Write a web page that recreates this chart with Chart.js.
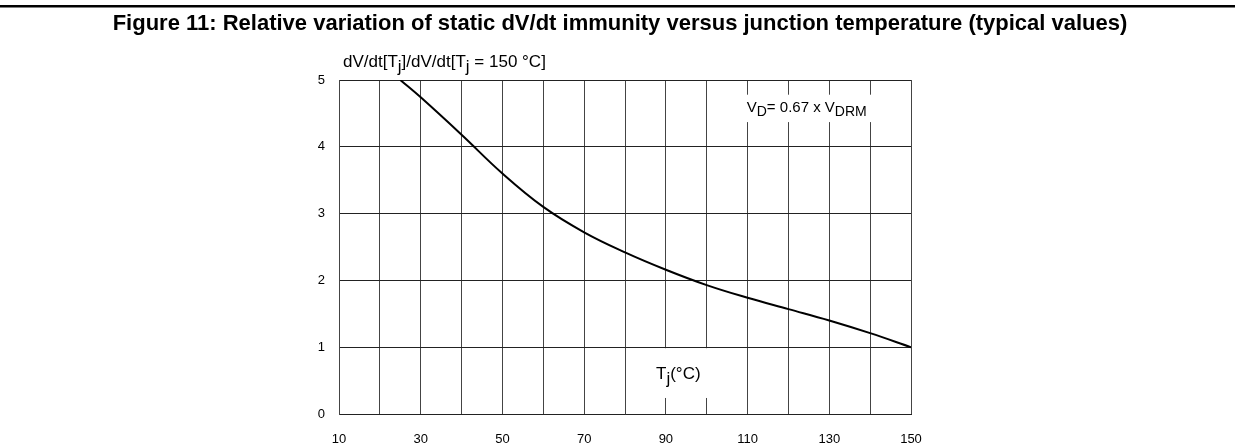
<!DOCTYPE html>
<html>
<head>
<meta charset="utf-8">
<script src="https://cdn.jsdelivr.net/npm/chart.js@4.4.1/dist/chart.umd.min.js"></script>
<style>
  html, body { margin: 0; padding: 0; background: #fff; }
  canvas { display: block; }
</style>
</head>
<body>
<canvas id="myChart" width="1235" height="448"></canvas>
<script>
// junction temperature (°C) and relative dV/dt immunity
const temps = [25, 30, 40, 50, 60, 70, 80, 90, 100, 110, 120, 130, 140, 150];
const ratios = [5.0, 4.74, 4.18, 3.6, 3.1, 2.72, 2.42, 2.16, 1.93, 1.74, 1.57, 1.4, 1.21, 1.0];
const xTickLabels = [10, 30, 50, 70, 90, 110, 130, 150];
const yTickLabels = [0, 1, 2, 3, 4, 5];

const titleText = "Figure 11: Relative variation of static dV/dt immunity versus junction temperature (typical values)";
const yTitleParts = [["dV/dt[T", false], ["j", true], ["]/dV/dt[T", false], ["j", true], [" = 150 °C]", false]];
const xTitleParts = [["T", false], ["j", true], ["(°C)", false]];
const noteParts = [["V", false], ["D", true], ["= 0.67 x V", false], ["DRM", true]];

const FONT = "'Liberation Sans', Arial, sans-serif";

function drawParts(ctx, parts, x, y, size, subSize, drop) {
  parts.forEach(function (p) {
    ctx.font = (p[1] ? subSize : size) + "px " + FONT;
    ctx.fillText(p[0], x, p[1] ? y + drop : y);
    x += ctx.measureText(p[0]).width;
  });
}

const decorations = {
  id: "decorations",
  beforeDatasetsDraw(chart) {
    const ctx = chart.ctx;
    const xs = chart.scales.x;
    const ys = chart.scales.y;
    ctx.save();
    ctx.fillStyle = "#fff";
    // blank box behind the Tj label
    let x0 = xs.getPixelForValue(80) + 1;
    let x1 = xs.getPixelForValue(110) - 1;
    let y0 = ys.getPixelForValue(1) + 1;
    let y1 = ys.getPixelForValue(0.24);
    ctx.fillRect(x0, y0, x1 - x0, y1 - y0);
    // blank box behind the VD note
    x0 = xs.getPixelForValue(100) + 1;
    x1 = xs.getPixelForValue(150) - 1;
    y0 = ys.getPixelForValue(4.78);
    y1 = ys.getPixelForValue(4.37);
    ctx.fillRect(x0, y0, x1 - x0, y1 - y0);
    ctx.restore();
  },
  afterDraw(chart) {
    const ctx = chart.ctx;
    const xs = chart.scales.x;
    const ys = chart.scales.y;
    ctx.save();
    // top rule
    ctx.fillStyle = "#000";
    ctx.fillRect(0, 5, chart.width, 2.5);
    // title
    ctx.font = "bold 22px " + FONT;
    ctx.textAlign = "center";
    ctx.textBaseline = "alphabetic";
    ctx.fillText(titleText, 620, 30);
    ctx.textAlign = "left";
    // y axis title
    drawParts(ctx, yTitleParts, chart.chartArea.left + 4, 67, 17, 17, 5);
    // x axis title inside the plot
    drawParts(ctx, xTitleParts, xs.getPixelForValue(87.6), ys.getPixelForValue(0.52), 17, 17, 5);
    // VD note
    drawParts(ctx, noteParts, xs.getPixelForValue(109.8), ys.getPixelForValue(4.52), 15, 14, 4);
    ctx.restore();
  }
};

const ctx = document.querySelector("#myChart");
new Chart(ctx, {
  type: "line",
  data: {
    datasets: [
      {
        data: temps.map(function (t, i) { return { x: t, y: ratios[i] }; }),
        borderColor: "#000",
        borderWidth: 2,
        pointRadius: 0,
        fill: false,
        tension: 0.4,
      },
    ],
  },
  options: {
    responsive: false,
    animation: false,
    events: [],
    layout: { padding: { left: 0, top: 80, right: 324, bottom: 0 } },
    plugins: { legend: { display: false }, tooltip: { enabled: false } },
    scales: {
      x: {
        type: "linear",
        min: 10,
        max: 150,
        afterFit: function (scale) { scale.height = 34; },
        afterBuildTicks: function (scale) {
          const t = [];
          for (let v = 10; v <= 150; v += 10) t.push({ value: v });
          scale.ticks = t;
        },
        ticks: {
          autoSkip: false,
          maxRotation: 0,
          padding: 18,
          color: "#000",
          font: { family: FONT, size: 13 },
          callback: function (v) { return xTickLabels.indexOf(v) >= 0 ? String(v) : ""; },
        },
        grid: { color: "#444", lineWidth: 1, drawTicks: false },
        border: { color: "#222", width: 1 },
      },
      y: {
        min: 0,
        max: 5,
        afterFit: function (scale) { scale.width = 339; },
        afterBuildTicks: function (scale) {
          scale.ticks = yTickLabels.map(function (v) { return { value: v }; });
        },
        ticks: {
          padding: 14,
          color: "#000",
          font: { family: FONT, size: 13 },
        },
        grid: { color: "#222", lineWidth: 1, drawTicks: false },
        border: { color: "#444", width: 1 },
      },
    },
  },
  plugins: [decorations],
});
</script>
</body>
</html>
